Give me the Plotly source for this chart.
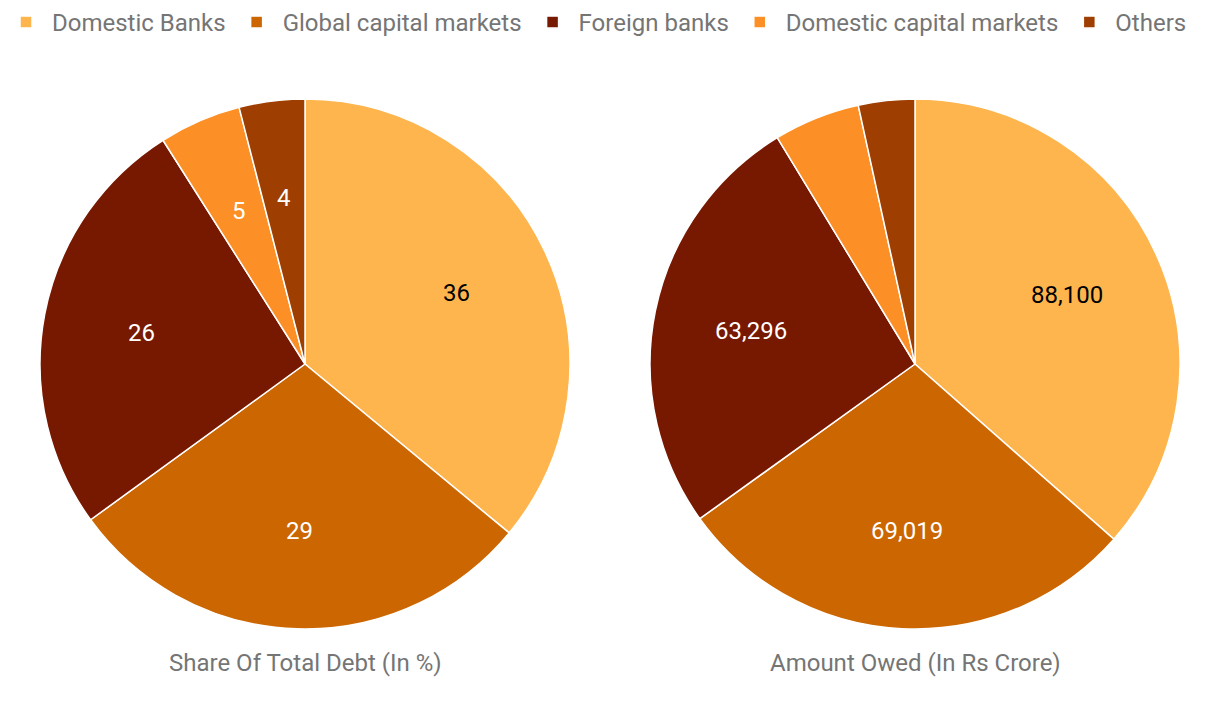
import math
import plotly.graph_objects as go

categories = ["Domestic Banks", "Global capital markets", "Foreign banks", "Domestic capital markets", "Others"]
share_pct = [36, 29, 26, 5, 4]
amount_crore = [88100, 69019, 63296, 12700, 8300]
colors = ["#FFB54D", "#CC6600", "#771800", "#FC8F25", "#9E3E00"]
titles = ["Share Of Total Debt (In %)", "Amount Owed (In Rs Crore)"]

FONT = "Roboto"
GRAY = "#757575"
W, H = 1220, 708
TEXT_COLORS = ["black", "white", "white", "white", "white"]

# pie geometry (pixels)
CENTERS_X = [305, 915]
CY = 364
R = 265

fig = go.Figure()
domains = [dict(x=[(c - R) / W, (c + R) / W], y=[1 - (CY + R) / H, 1 - (CY - R) / H]) for c in CENTERS_X]

pies = [
    (share_pct, lambda v: f"{v}", [True] * 5, True),
    (amount_crore, lambda v: f"{v:,}", [True, True, True, False, False], False),
]

for i, (vals, fmt, show, legend) in enumerate(pies):
    fig.add_trace(go.Pie(
        labels=categories, values=vals, sort=False, direction="clockwise", rotation=0,
        marker=dict(colors=colors, line=dict(color="white", width=1.5)),
        textinfo="none",
        domain=domains[i],
        hoverinfo="label+value", showlegend=legend,
    ))
    total = sum(vals)
    cum = 0
    for j, v in enumerate(vals):
        mid = (cum + v / 2) / total * 2 * math.pi
        cum += v
        if not show[j]:
            continue
        r = 0.63 * R
        px = CENTERS_X[i] + r * math.sin(mid)
        py = CY - r * math.cos(mid)
        fig.add_annotation(text=fmt(v), x=px / W, y=1 - py / H, xref="paper", yref="paper",
                           showarrow=False, xanchor="center", yanchor="middle",
                           font=dict(family=FONT, size=24, color=TEXT_COLORS[j]))
    fig.add_annotation(text=titles[i], x=CENTERS_X[i] / W, y=1 - 663 / H, xref="paper", yref="paper",
                       showarrow=False, font=dict(family=FONT, size=24, color=GRAY),
                       xanchor="center", yanchor="middle")

fig.update_layout(
    width=W, height=H,
    margin=dict(l=0, r=0, t=0, b=0),
    paper_bgcolor="white", plot_bgcolor="white",
    font=dict(family=FONT, size=24, color=GRAY),
    legend=dict(orientation="h", x=0, y=1, xanchor="left", yanchor="top",
                font=dict(family=FONT, size=24, color=GRAY), itemwidth=42,
                traceorder="normal"),
)

fig.write_html("out.html")
